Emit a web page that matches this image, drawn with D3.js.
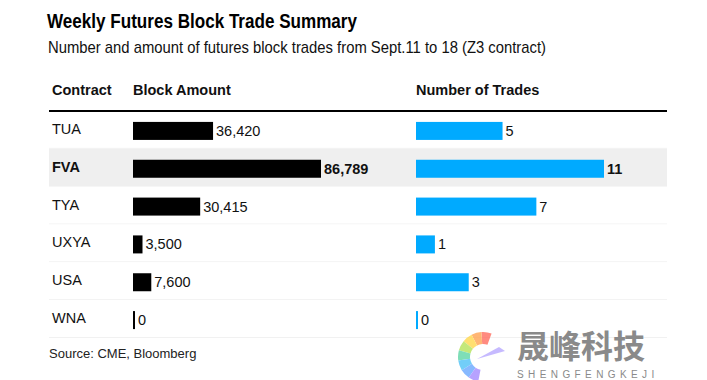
<!DOCTYPE html>
<html>
<head>
<meta charset="utf-8">
<title>Weekly Futures Block Trade Summary</title>
<script src="https://d3js.org/d3.v7.min.js" charset="utf-8"></script>
<style>
  body { margin: 0; background: #fff; }
  svg { display: block; font-family: "Liberation Sans", Arial, sans-serif; }
</style>
</head>
<body>
<div class="box"></div>
<script type="text/javascript">
    var contracts = ["TUA", "FVA", "TYA", "UXYA", "USA", "WNA"];
    var blockAmount = [36420, 86789, 30415, 3500, 7600, 0];
    var numTrades = [5, 11, 7, 1, 3, 0];
    var highlight = "FVA";

    var width = 707;
    var height = 380;
    var blue = "#00aaff";

    var svg = d3.select("div.box").append("svg")
        .attr("width", width)
        .attr("height", height);

    // title + subtitle (reference font is narrower, so squeeze to its width)
    svg.append("text")
        .attr("x", 47).attr("y", 28)
        .attr("font-size", 20).attr("font-weight", "bold")
        .attr("textLength", 310).attr("lengthAdjust", "spacingAndGlyphs")
        .attr("fill", "#000")
        .text("Weekly Futures Block Trade Summary");
    svg.append("text")
        .attr("x", 48).attr("y", 53)
        .attr("font-size", 17).attr("fill", "#111")
        .attr("textLength", 498).attr("lengthAdjust", "spacingAndGlyphs")
        .text("Number and amount of futures block trades from Sept.11 to 18 (Z3 contract)");

    var left = 49, right = 667;
    var amtX = 133, tradeX = 416;

    var y = d3.scaleBand()
        .domain(contracts)
        .range([111, 338]);

    var xAmt = d3.scaleLinear()
        .domain([0, d3.max(blockAmount)])
        .range([0, 186]);
    var xTrades = d3.scaleLinear()
        .domain([0, d3.max(numTrades)])
        .range([0, 186]);

    // headers
    var header = svg.append("g").attr("font-size", 14.5).attr("font-weight", "bold").attr("fill", "#111");
    header.append("text").attr("x", 52).attr("y", 95).text("Contract");
    header.append("text").attr("x", amtX).attr("y", 95).text("Block Amount");
    header.append("text").attr("x", tradeX).attr("y", 95).text("Number of Trades");

    var rows = svg.selectAll("g.row")
        .data(contracts)
        .enter().append("g")
        .attr("class", "row")
        .attr("transform", function(d) { return "translate(0," + y(d) + ")"; });

    rows.append("rect")
        .attr("x", left).attr("width", right - left)
        .attr("y", 0).attr("height", y.bandwidth())
        .attr("fill", function(d) { return d === highlight ? "#efefef" : "#fff"; });

    rows.append("line")
        .attr("x1", left).attr("x2", right)
        .attr("y1", y.bandwidth() - 0.5).attr("y2", y.bandwidth() - 0.5)
        .attr("stroke", "#f1f1f1");

    var mid = y.bandwidth() / 2;
    var barH = 18;

    rows.append("text")
        .attr("x", 52).attr("y", mid + 4)
        .attr("font-size", 14.5)
        .attr("font-weight", function(d) { return d === highlight ? "bold" : "normal"; })
        .attr("fill", "#111")
        .text(function(d) { return d; });

    rows.append("rect")
        .attr("x", amtX).attr("y", mid - barH / 2 + 1)
        .attr("height", barH)
        .attr("width", function(d, i) { return 2 + xAmt(blockAmount[i]); })
        .attr("fill", "#000");

    rows.append("text")
        .attr("x", function(d, i) { return amtX + 2 + xAmt(blockAmount[i]) + 3; })
        .attr("y", mid + 6)
        .attr("font-size", 14.5)
        .attr("font-weight", function(d) { return d === highlight ? "bold" : "normal"; })
        .attr("fill", "#111")
        .text(function(d, i) { return d3.format(",")(blockAmount[i]); });

    rows.append("rect")
        .attr("x", tradeX).attr("y", mid - barH / 2 + 1)
        .attr("height", barH)
        .attr("width", function(d, i) { return 2 + xTrades(numTrades[i]); })
        .attr("fill", blue);

    rows.append("text")
        .attr("x", function(d, i) { return tradeX + 2 + xTrades(numTrades[i]) + 3; })
        .attr("y", mid + 6)
        .attr("font-size", 14.5)
        .attr("font-weight", function(d) { return d === highlight ? "bold" : "normal"; })
        .attr("fill", "#111")
        .text(function(d, i) { return numTrades[i]; });

    // header rule
    svg.append("line")
        .attr("x1", left).attr("x2", right)
        .attr("y1", 111).attr("y2", 111)
        .attr("stroke", "#000").attr("stroke-width", 2);

    svg.append("text")
        .attr("x", 49).attr("y", 358)
        .attr("font-size", 13).attr("fill", "#222")
        .text("Source: CME, Bloomberg");

    // watermark: rainbow "C" swoosh + name
    var wm = svg.append("g").attr("opacity", 0.8);
    var arcColors = ["#ff6f61", "#ffa552", "#ffd84d", "#b6e35a", "#5fd6a6", "#4fc3f7", "#6aa8ff", "#a58cff"];
    var wArc = d3.arc().innerRadius(13).outerRadius(25);
    var step = 3.3 / arcColors.length;
    arcColors.forEach(function(c, i) {
        var a0 = 0.35 - i * step;
        wm.append("path")
            .attr("transform", "translate(483,357)")
            .attr("d", wArc({ startAngle: a0 - step, endAngle: a0 }))
            .attr("fill", c);
    });
    wm.append("path")
        .attr("transform", "translate(483,357)")
        .attr("d", "M-6,2 L16,-10 L22,-6 Z")
        .attr("fill", "#b9a9ff");
    svg.append("text")
        .attr("x", 517).attr("y", 358)
        .attr("font-family", "'Noto Sans CJK SC'")
        .attr("font-weight", "bold")
        .attr("font-size", 32).attr("fill", "#8a8a8a")
        .text("晟峰科技");
    svg.append("text")
        .attr("x", 517).attr("y", 378)
        .attr("font-size", 10).attr("letter-spacing", 4.4)
        .attr("fill", "#8a8a8a")
        .text("SHENGFENGKEJI");
</script>
</body>
</html>
